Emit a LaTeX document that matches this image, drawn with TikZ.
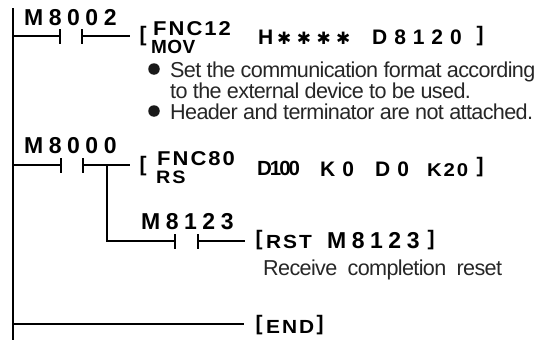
\documentclass[tikz,border=0pt]{standalone}
\usepackage{fontspec}
\setmainfont{Liberation Sans}
\newfontfamily\ladfont[LetterSpace=24]{Liberation Sans}
\newfontfamily\cmdfont[LetterSpace=33]{Liberation Sans}
\newfontfamily\fncfont[LetterSpace=10,FakeStretch=1.1]{Liberation Sans}
\newfontfamily\midfont[LetterSpace=2]{Liberation Sans}
\newfontfamily\condfont[LetterSpace=-10]{Liberation Sans}
\newfontfamily\tightfont[LetterSpace=-3]{Liberation Sans}
\newfontfamily\starfont[LetterSpace=32]{DejaVu Sans}
\tikzset{
	lad/.style={anchor=base west,inner sep=0pt,font=\ladfont\bfseries\fontsize{23}{23}\selectfont},
	cmd/.style={anchor=base west,inner sep=0pt,font=\cmdfont\bfseries\fontsize{21}{21}\selectfont},
	fnc/.style={anchor=base west,inner sep=0pt,font=\fncfont\bfseries\fontsize{#1}{#1}\selectfont},
	mid/.style={anchor=base west,inner sep=0pt,font=\midfont\bfseries\fontsize{19}{19}\selectfont},
	cond/.style={anchor=base west,inner sep=0pt,font=\condfont\bfseries\fontsize{20.5}{20.5}\selectfont},
	stars/.style={anchor=base west,inner sep=0pt,font=\starfont\fontsize{17}{17}\selectfont},
	note/.style={anchor=base west,inner sep=0pt,text=black!85,font=\tightfont\fontsize{21.6}{21.6}\selectfont},
	dot/.style={shape=circle,fill=black!90,inner sep=0pt,minimum size=11.5pt},
	wire/.style={line width=2pt},
	rail/.style={line width=2.7pt}
}
\begin{document}
\begin{tikzpicture}[x=1pt,y=-1pt]
	\useasboundingbox (0,0) rectangle (539,340);

	\coordinate (railtop) at (13,8);
	\coordinate (railend) at (13,340);
	\coordinate (a0) at (13,36);
	\coordinate (a1) at (60,36);
	\coordinate (a2) at (82,36);
	\coordinate (a3) at (130,36);
	\coordinate (b0) at (13,165);
	\coordinate (b1) at (61,165);
	\coordinate (b2) at (83,165);
	\coordinate (b3) at (130,165);
	\coordinate (bj) at (107,165);
	\coordinate (c0) at (107,241);
	\coordinate (c1) at (175,241);
	\coordinate (c2) at (198,241);
	\coordinate (c3) at (245,241);
	\coordinate (e0) at (13,324);
	\coordinate (e1) at (244,324);

	\node[lad] (m8002) at (24,25)  {M8002};
	\node[lad] (m8000) at (24,153) {M8000};
	\node[lad] (m8123) at (141,229) {M8123};

	\node[cmd] (br1) at (139.5,41.6) {[};
	\node[fnc=20] (fnc12) at (153,35) {FNC12};
	\node[mid] (mov) at (151,53) {MOV};
	\node[cmd] (hval) at (258,45) {H};
	\node[stars] (ast) at (277,44) {✱✱✱✱};
	\node[cmd] (d8120) at (372,45) {D8120};
	\node[cmd] (br2) at (476.5,41.6) {]};

	\node[dot] (dota) at (154,69) {};
	\node[note] (nota) at (170,77) {Set the communication format according};
	\node[note] (notb) at (170,98) {to the external device to be used.};
	\node[dot] (dotb) at (154,111) {};
	\node[note] (notc) at (170,119) {Header and terminator are not attached.};

	\node[cmd] (br3) at (139.5,171) {[};
	\node[fnc=20] (fnc80) at (157,165) {FNC80};
	\node[fnc=18] (rs) at (156,183) {RS};
	\node[cond] (d100) at (257,175) {D100};
	\node[cmd] (k0) at (320,176) {K0};
	\node[cmd] (d0) at (375,176) {D0};
	\node[fnc=18.5] (k20) at (427,176) {K20};
	\node[cmd] (br4) at (476.5,172) {]};

	\node[cmd] (br5) at (255.5,245) {[};
	\node[fnc=19] (rst) at (266,248) {RST};
	\node[lad] (m8123b) at (327,248) {M8123};
	\node[cmd] (br6) at (427.5,245) {]};
	\node[note] (recv) at (263,275) {Receive\hspace{5pt} completion\hspace{5pt} reset};

	\node[cmd] (br7) at (255.5,330) {[};
	\node[fnc=19] (endtxt) at (266,333) {END};
	\node[cmd] (br8) at (316.5,330) {]};

	\draw[rail] (railtop) -- (railend);
	\draw[wire] (a0) -- (a1);
	\draw[wire] (a2) -- (a3);
	\draw[wire] ([yshift=-7.5pt]a1) -- ([yshift=7.5pt]a1);
	\draw[wire] ([yshift=-7.5pt]a2) -- ([yshift=7.5pt]a2);
	\draw[wire] (b0) -- (b1);
	\draw[wire] (b2) -- (b3);
	\draw[wire] ([yshift=-7.5pt]b1) -- ([yshift=7.5pt]b1);
	\draw[wire] ([yshift=-7.5pt]b2) -- ([yshift=7.5pt]b2);
	\draw[wire] (bj) -- (c0) -- (c1);
	\draw[wire] (c2) -- (c3);
	\draw[wire] ([yshift=-7.5pt]c1) -- ([yshift=7.5pt]c1);
	\draw[wire] ([yshift=-7.5pt]c2) -- ([yshift=7.5pt]c2);
	\draw[wire] (e0) -- (e1);
\end{tikzpicture}
\end{document}
